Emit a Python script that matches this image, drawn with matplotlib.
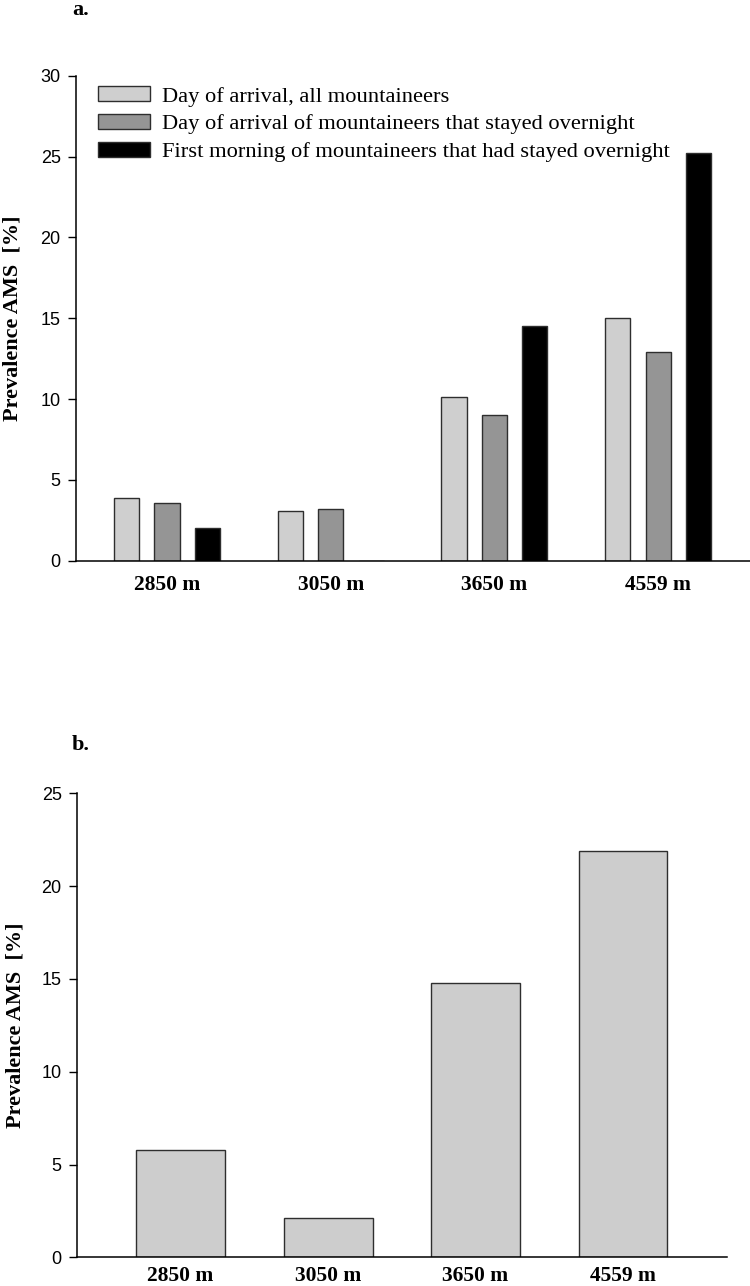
import numpy as np
import matplotlib
matplotlib.use("Agg")
import matplotlib.pyplot as plt

# altitudes and AMS prevalence (%)
sites = ["2850 m", "3050 m", "3650 m", "4559 m"]
arrival_all = [3.9, 3.1, 10.1, 15.0]
arrival_overnight = [3.6, 3.2, 9.0, 12.9]
morning_overnight = [2.0, 0.0, 14.5, 25.2]
series_labels = ["Day of arrival, all mountaineers",
                 "Day of arrival of mountaineers that stayed overnight",
                 "First morning of mountaineers that had stayed overnight"]
prev_b = [5.8, 2.1, 14.8, 21.9]

W, H = 750, 1286
fig = plt.figure(figsize=(W / 100, H / 100), dpi=100)

serif = "Liberation Serif"
sans = "Liberation Sans"
edge = "#2e2e2e"


def style_axes(ax, ymax, xpad):
    ax.spines["top"].set_visible(False)
    ax.spines["right"].set_visible(False)
    ax.spines["left"].set_linewidth(1.1)
    ax.spines["bottom"].set_linewidth(1.1)
    ax.set_ylim(0, ymax)
    ax.set_yticks(np.arange(0, ymax + 1, 5))
    ax.tick_params(axis="y", direction="out", length=6, width=1.0, pad=5)
    ax.tick_params(axis="x", length=0, pad=xpad)
    for lb in ax.get_yticklabels():
        lb.set_fontfamily(sans)
        lb.set_fontsize(13)
    for lb in ax.get_xticklabels():
        lb.set_fontfamily(serif)
        lb.set_fontweight("bold")
        lb.set_fontsize(15.5)
    ax.set_ylabel("Prevalence AMS  [%]", fontfamily=serif, fontweight="bold",
                  fontsize=16)


# ----- panel a -----
ax1 = fig.add_axes([76 / W, 1 - 560.7 / H, 674 / W, (560.7 - 75.7) / H])
x = np.arange(len(sites))
off = 0.247
bw = 0.153
colors = ["#cfcfcf", "#959595", "#000000"]
for i, vals in enumerate([arrival_all, arrival_overnight, morning_overnight]):
    ax1.bar(x + (i - 1) * off, vals, bw, color=colors[i], edgecolor=edge,
            linewidth=1.0, label=series_labels[i])
ax1.set_xlim(-0.556, 3.561)
ax1.set_xticks(x)
ax1.set_xticklabels(sites)
style_axes(ax1, 30, 10)
ax1.yaxis.set_label_coords((23 - 76) / 674, 0.5)
leg = ax1.legend(loc="upper left", bbox_to_anchor=(22 / 674, 0.978),
                 frameon=False, prop={"family": serif, "size": 16.2},
                 handlelength=2.3, handleheight=0.62, handletextpad=0.55,
                 labelspacing=0.34, borderpad=0, borderaxespad=0)

# ----- panel b -----
ax2 = fig.add_axes([77 / W, 1 - 1257.3 / H, 650 / W, (1257.3 - 793.3) / H])
ax2.bar(x, prev_b, 0.603, color="#cdcdcd", edgecolor=edge, linewidth=1.0)
ax2.set_xlim(-0.702, 3.705)
ax2.set_xticks(x)
ax2.set_xticklabels(sites)
style_axes(ax2, 25, 6)
ax2.yaxis.set_label_coords((26 - 77) / 650, 0.5)

fig.text(72 / W, 1 - 10 / H, "a.", fontfamily=serif, fontweight="bold",
         fontsize=16, va="center", ha="left")
fig.text(72 / W, 1 - 745 / H, "b.", fontfamily=serif, fontweight="bold",
         fontsize=16, va="center", ha="left")

fig.savefig("out.png", dpi=100)
